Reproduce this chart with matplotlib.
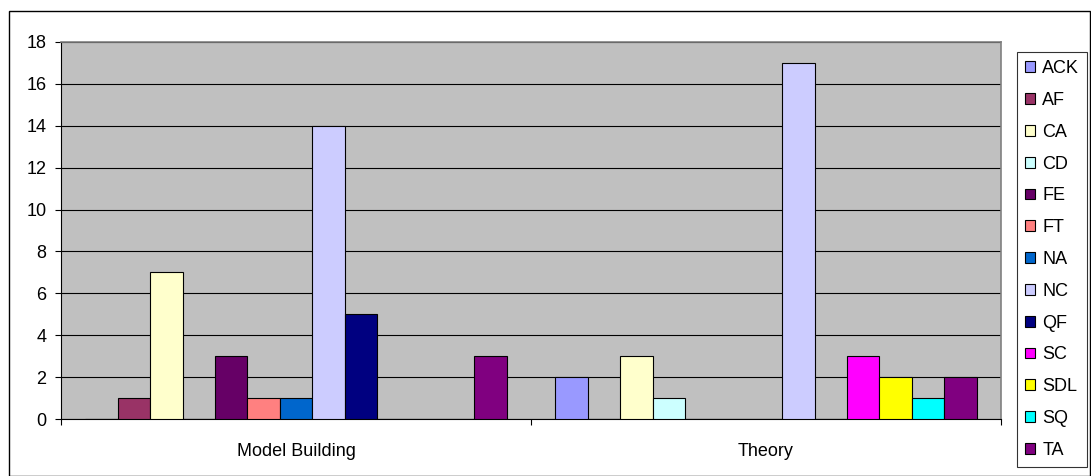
import matplotlib
matplotlib.use("Agg")
import matplotlib.pyplot as plt
from matplotlib.patches import Rectangle
import numpy as np

plt.rcParams['font.family'] = ['Liberation Sans', 'DejaVu Sans']

categories = ["Model Building", "Theory"]
series = ["ACK", "AF", "CA", "CD", "FE", "FT", "NA", "NC", "QF", "SC", "SDL", "SQ", "TA"]
model_building = [0, 1, 7, 0, 3, 1, 1, 14, 5, 0, 0, 0, 3]
theory = [2, 0, 3, 1, 0, 0, 0, 17, 0, 3, 2, 1, 2]
colors = ["#9999FF", "#993366", "#FFFFCC", "#CCFFFF", "#660066", "#FF8080", "#0066CC",
          "#CCCCFF", "#000080", "#FF00FF", "#FFFF00", "#00FFFF", "#800080"]
y_ticks = [0, 2, 4, 6, 8, 10, 12, 14, 16, 18]

W, H = 1091, 476
fig = plt.figure(figsize=(W / 100, H / 100), dpi=100)
fig.patch.set_facecolor("white")

# plot area in pixel terms
left, right, top, bottom = 61, 1001, 42, 419
ax = fig.add_axes([left / W, 1 - bottom / H, (right - left) / W, (bottom - top) / H])
ax.set_facecolor("#C0C0C0")

x = np.arange(len(categories))
n = len(series)
width = 1 / (n + 1.5)
values = np.array([model_building, theory]).T  # shape (series, category)
for i, (name, col) in enumerate(zip(series, colors)):
    offset = (i - (n - 1) / 2) * width
    ax.bar(x + offset, values[i], width=width, color=col, edgecolor="black",
           linewidth=0.8, label=name, zorder=3)

ax.set_xlim(-0.5, 1.5)
ax.set_ylim(0, 18)
ax.set_yticks(y_ticks)
ax.yaxis.grid(True, color="black", linewidth=0.8, zorder=1)
ax.set_axisbelow(True)

ax.set_xticks(x)
ax.set_xticklabels(categories)
ax.set_xticks([-0.5, 0.5, 1.5], minor=True)
ax.tick_params(axis="x", which="major", length=0, pad=17.5, labelsize=13)
ax.tick_params(axis="x", which="minor", length=4.5, width=0.8, direction="out")
ax.tick_params(axis="y", length=4.5, width=0.8, direction="out", pad=6, labelsize=13)

for s in ["top", "right"]:
    ax.spines[s].set_color("#808080")
    ax.spines[s].set_linewidth(1.2)
for s in ["left", "bottom"]:
    ax.spines[s].set_color("black")
    ax.spines[s].set_linewidth(0.8)

# legend box at the right
leg = fig.legend(loc="upper left", bbox_to_anchor=(1017 / W, 1 - 52 / H),
                 fontsize=13, frameon=True, fancybox=False, edgecolor="black",
                 handlelength=0.55, handleheight=0.55, handletextpad=0.4,
                 labelspacing=0.82, borderpad=0.45, borderaxespad=0)
leg.get_frame().set_linewidth(0.8)

# outer chart border
fig.add_artist(Rectangle((8.5 / W, 1 - 475.5 / H), (1090 - 8.5) / W, (475.5 - 10.5) / H,
                         transform=fig.transFigure, fill=False, edgecolor="black",
                         linewidth=1.0))

fig.savefig("out.png", dpi=100)
